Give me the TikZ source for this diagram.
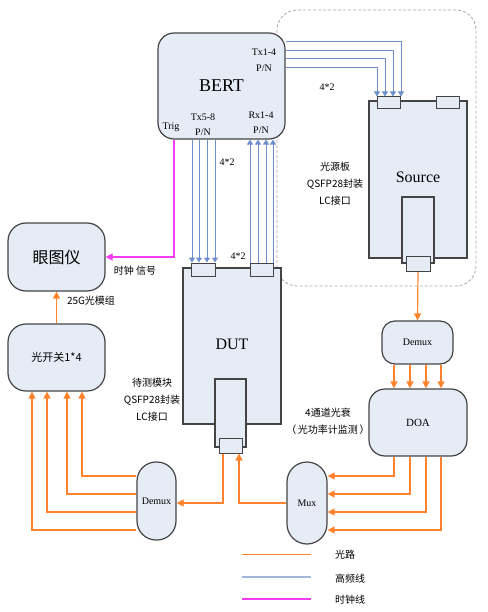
\documentclass[tikz,border=0pt]{standalone}
\usepackage{fontspec}
\setmainfont{Liberation Serif}
\newfontfamily\cjk{Noto Sans CJK SC}
\usetikzlibrary{arrows.meta}
\pgfdeclarelayer{bg}
\pgfsetlayers{bg,main}
\definecolor{boxfill}{HTML}{E6ECF6}
\definecolor{boxline}{HTML}{444444}
\definecolor{optc}{HTML}{FF832E}
\definecolor{hfc}{HTML}{6E8FCB}
\definecolor{hfl}{HTML}{A3B8DC}
\definecolor{clkc}{HTML}{F23CF2}
\definecolor{dashc}{HTML}{A8A8A8}
\tikzset{
  box/.style={draw=boxline, fill=boxfill, line width=1.2pt, rectangle, inner sep=0pt},
  rbox/.style={box, rounded corners=#1},
  conn/.style={box, line width=1pt},
  opt/.style={draw=optc, line width=1.2pt},
  hf/.style={draw=hfc, line width=1pt},
  clk/.style={draw=clkc, line width=1.2pt},
  otip/.style={-{Triangle[length=7pt,width=7pt]}},
  btip/.style={-{Triangle[length=5pt,width=6pt]}},
  lbl/.style={inner sep=0pt, font=\fontsize{10}{12}\selectfont},
  clbl/.style={inner sep=0pt, font=\cjk\fontsize{10}{12}\selectfont},
}
\begin{document}
\begin{tikzpicture}[x=1pt,y=-1pt]
\useasboundingbox (0,0) rectangle (487,612);

% boxes
\node[rbox=16pt, minimum width=127pt, minimum height=106pt, font=\fontsize{18}{20}\selectfont] (bert) at (221.5,86) {BERT};

\node[box, minimum width=98pt, minimum height=157pt] (src) at (418,179.5) {};
\node[lbl, font=\fontsize{16}{18}\selectfont] (srct) at (418,177) {Source};
\node[conn, minimum width=23pt, minimum height=12pt] (srcc1) at (388.5,103) {};
\node[conn, minimum width=23pt, minimum height=12pt] (srcc2) at (447.5,103) {};
\node[box, minimum width=32pt, minimum height=66pt] (srcin) at (418,230) {};
\node[conn, minimum width=24pt, minimum height=15pt] (srcc3) at (418,263.5) {};

\node[box, minimum width=98pt, minimum height=156pt] (dut) at (232,346) {};
\node[lbl, font=\fontsize{16}{18}\selectfont] (dutt) at (232,344) {DUT};
\node[conn, minimum width=24pt, minimum height=13pt] (dutc1) at (203,269.5) {};
\node[conn, minimum width=23pt, minimum height=13pt] (dutc2) at (261.5,269.5) {};
\node[box, minimum width=31pt, minimum height=68pt] (dutin) at (230.5,413) {};
\node[conn, minimum width=23pt, minimum height=15pt] (dutc3) at (230.5,445.5) {};

\node[rbox=18pt, minimum width=97pt, minimum height=68pt, font=\cjk\fontsize{16}{18}\selectfont] (eye) at (56.5,257) {眼图仪};
\node[rbox=18pt, minimum width=97pt, minimum height=67pt, font=\cjk\fontsize{11}{13}\selectfont] (osw) at (56.5,357.5) {光开关1*4};
\node[rbox=19pt, minimum width=39pt, minimum height=78pt, font=\fontsize{10}{12}\selectfont] (demuxb) at (156.5,501) {Demux};
\node[rbox=20pt, minimum width=40pt, minimum height=82pt, font=\fontsize{10}{12}\selectfont] (mux) at (307,503) {Mux};
\node[rbox=13pt, minimum width=71pt, minimum height=43pt, font=\fontsize{10}{12}\selectfont] (demuxt) at (417.5,342.5) {Demux};
\node[rbox=16pt, minimum width=98pt, minimum height=67pt, font=\fontsize{11}{13}\selectfont] (doa) at (418,422.5) {DOA};

% labels
\node[lbl] (l1) at (264,52) {Tx1-4};
\node[lbl] (l2) at (264,68) {P/N};
\node[lbl] (l3) at (171,127) {Trig};
\node[lbl] (l4) at (203,117) {Tx5-8};
\node[lbl] (l5) at (203,132) {P/N};
\node[lbl] (l6) at (261,115) {Rx1-4};
\node[lbl] (l7) at (261,130) {P/N};
\node[lbl] (l8) at (327,87) {4*2};
\node[lbl] (l9) at (227,162) {4*2};
\node[lbl] (l10) at (238,256) {4*2};
\node[clbl] (c1) at (335,167) {光源板};
\node[clbl] (c2) at (335,184) {QSFP28封装};
\node[clbl] (c3) at (335,201) {LC接口};
\node[clbl] (c4) at (152,383) {待测模块};
\node[clbl] (c5) at (152,400) {QSFP28封装};
\node[clbl] (c6) at (152,417) {LC接口};
\node[clbl] (c7) at (135,271) {时钟 信号};
\node[clbl] (c8) at (91,301) {25G光模组};
\node[clbl] (c9) at (328,413) {4通道光衰};
\node[clbl] (c10) at (328,430) {（\,光功率计监测\,）};

% legend
\coordinate (la1) at (242,554); \coordinate (lb1) at (311,554);
\coordinate (la2) at (242,577); \coordinate (lb2) at (311,577);
\coordinate (la3) at (242,599); \coordinate (lb3) at (311,599);
\draw[draw=optc, line width=1pt] (la1) -- (lb1);
\draw[draw=hfl, line width=1.8pt] (la2) -- (lb2);
\draw[draw=clkc, line width=1.2pt] (la3) -- (lb3);
\node[clbl, anchor=west] (g1) at (335,555) {光路};
\node[clbl, anchor=west] (g2) at (335,579) {高频线};
\node[clbl, anchor=west] (g3) at (335,600) {时钟线};

\begin{pgfonlayer}{bg}
\draw[dashc, line width=0.8pt, dash pattern=on 3pt off 2pt, rounded corners=20pt] (277,10) rectangle (476,286);
% high-frequency lines
\foreach \y/\x in {42/401,51/393,59/385,68/377}
  \draw[hf, btip] (bert.east |- 0,\y) -| (srcc1.north -| \x,0);
\foreach \x in {192,199,207,215}
  \draw[hf, btip] (bert.south -| \x,0) -- (dutc1.north -| \x,0);
\foreach \x in {250,258,266,273}
  \draw[hf, btip] (dutc2.north -| \x,0) -- (bert.south -| \x,0);
% clock
\draw[clk, otip] (bert.south -| 174,0) |- (eye.east);
% optical
\draw[opt, otip] (osw.north) -- (eye.south);
\draw[opt, otip] (srcc3.south) -- (demuxt.north);
\foreach \x in {394,410,426,441}
  \draw[opt, otip] (demuxt.south -| \x,0) -- (doa.north -| \x,0);
\foreach \x/\y in {394/476,410/494,426/512,441/530}
  \draw[opt, otip] (doa.south -| \x,0) |- (mux.east |- 0,\y);
\foreach \x/\y in {82/476,67/494,47/512,32/530}
  \draw[opt, otip] (demuxb.west |- 0,\y) -| (osw.south -| \x,0);
\draw[opt, otip] (dutc3.south -| 223,0) |- (demuxb.east |- 0,503);
\draw[opt, otip] (mux.west |- 0,503) -| (dutc3.south -| 239,0);
\end{pgfonlayer}
\end{tikzpicture}
\end{document}
